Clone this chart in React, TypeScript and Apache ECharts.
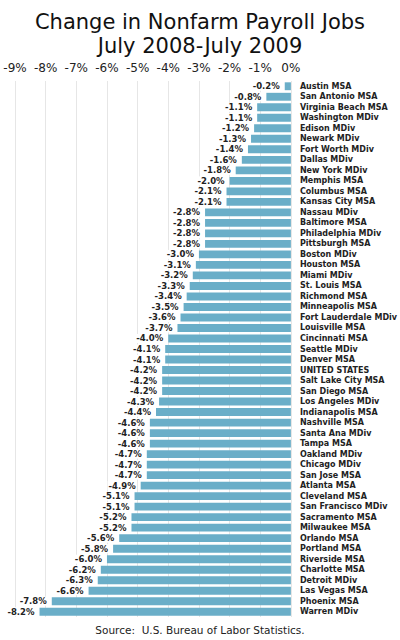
import React, { useEffect, useRef } from "react";
import * as echarts from "echarts";

const categories = [
  "Austin MSA", "San Antonio MSA", "Virginia Beach MSA", "Washington MDiv", "Edison MDiv",
  "Newark MDiv", "Fort Worth MDiv", "Dallas MDiv", "New York MDiv", "Memphis MSA",
  "Columbus MSA", "Kansas City MSA", "Nassau MDiv", "Baltimore MSA", "Philadelphia MDiv",
  "Pittsburgh MSA", "Boston MDiv", "Houston MSA", "Miami MDiv", "St. Louis MSA",
  "Richmond MSA", "Minneapolis MSA", "Fort Lauderdale MDiv", "Louisville MSA", "Cincinnati MSA",
  "Seattle MDiv", "Denver MSA", "UNITED STATES", "Salt Lake City MSA", "San Diego MSA",
  "Los Angeles MDiv", "Indianapolis MSA", "Nashville MSA", "Santa Ana MDiv", "Tampa MSA",
  "Oakland MDiv", "Chicago MDiv", "San Jose MSA", "Atlanta MSA", "Cleveland MSA",
  "San Francisco MDiv", "Sacramento MSA", "Milwaukee MSA", "Orlando MSA", "Portland MSA",
  "Riverside MSA", "Charlotte MSA", "Detroit MDiv", "Las Vegas MSA", "Phoenix MSA",
  "Warren MDiv",
];

const values = [
  -0.2, -0.8, -1.1, -1.1, -1.2,
  -1.3, -1.4, -1.6, -1.8, -2.0,
  -2.1, -2.1, -2.8, -2.8, -2.8,
  -2.8, -3.0, -3.1, -3.2, -3.3,
  -3.4, -3.5, -3.6, -3.7, -4.0,
  -4.1, -4.1, -4.2, -4.2, -4.2,
  -4.3, -4.4, -4.6, -4.6, -4.6,
  -4.7, -4.7, -4.7, -4.9, -5.1,
  -5.1, -5.2, -5.2, -5.6, -5.8,
  -6.0, -6.2, -6.3, -6.6, -7.8,
  -8.2,
];

const titleLines = ["Change in Nonfarm Payroll Jobs", "July 2008-July 2009"];
const sourceText = "Source:  U.S. Bureau of Labor Statistics.";

export default function App() {
  const ref = useRef<HTMLDivElement>(null);
  useEffect(() => {
    document.body.style.margin = "0";
    if (!ref.current) return;
    const chart = echarts.init(ref.current, null, { renderer: "svg" });
    chart.setOption({
      animation: false,
      backgroundColor: "#fff",
      textStyle: { fontFamily: "DejaVu Sans" },
      title: {
        text: titleLines.join("\n"),
        left: "center",
        top: 5,
        textStyle: {
          fontFamily: "DejaVu Sans",
          fontSize: 21,
          fontWeight: "normal",
          color: "#111",
          lineHeight: 24,
        },
      },
      graphic: [
        {
          type: "text",
          left: "center",
          top: 624,
          style: {
            text: sourceText,
            fontFamily: "DejaVu Sans",
            fontSize: 10.5,
            fill: "#222",
          },
        },
      ],
      grid: { left: 15, right: 109, top: 81, bottom: 23, containLabel: false },
      xAxis: {
        type: "value",
        position: "top",
        min: -9,
        max: 0,
        interval: 1,
        axisLine: { show: false },
        axisTick: { show: false },
        splitLine: { show: true, lineStyle: { color: "#e6e6e6", width: 1 } },
        axisLabel: {
          formatter: (v: number) => `${Math.round(v)}%`,
          fontSize: 12,
          color: "#222",
          margin: 7,
          fontFamily: "DejaVu Sans",
        },
      },
      yAxis: {
        type: "category",
        data: categories,
        inverse: true,
        position: "right",
        axisLine: { show: false },
        axisTick: { show: false },
        axisLabel: {
          interval: 0,
          align: "left",
          margin: 9,
          fontSize: 8,
          fontWeight: "bold",
          color: "#222",
          fontFamily: "DejaVu Sans",
        },
      },
      series: [
        {
          type: "bar",
          data: values,
          barCategoryGap: "25%",
          itemStyle: { color: "#6aaec8" },
          label: {
            show: true,
            position: "left",
            distance: 4,
            formatter: (p: any) => `${p.value.toFixed(1)}%`,
            fontSize: 8.5,
            fontWeight: "bold",
            color: "#222",
            backgroundColor: "#fff",
            padding: [0, 1],
            fontFamily: "DejaVu Sans",
          },
        },
      ],
    });
    return () => chart.dispose();
  }, []);
  return <div ref={ref} style={{ width: 400, height: 640 }} />;
}
